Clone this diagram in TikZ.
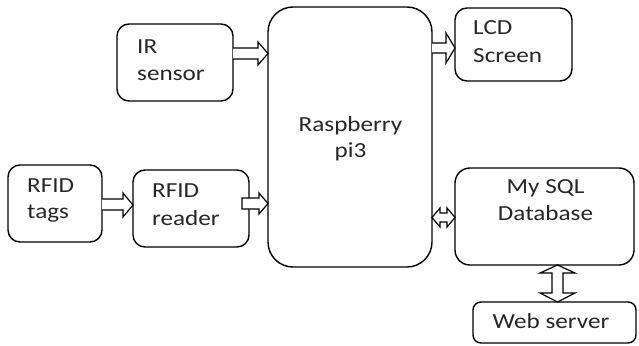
\documentclass[tikz,border=0pt]{standalone}
\usepackage{fontspec}
\setmainfont{Carlito}[FakeStretch=1.17]
\usetikzlibrary{calc}
\begin{document}
\begin{tikzpicture}[x=1pt,y=-1pt,
  box/.style={draw=black, line width=1.4pt, rounded corners=#1, inner sep=0pt, outer sep=0pt},
  blk/.style={draw=black, line width=1.2pt, fill=white, line join=miter},
  lbl/.style={inner sep=0pt, font=\fontsize{21.5}{26}\selectfont, text=black!85},
  lw/.style={lbl, anchor=base west},
  lc/.style={lbl, anchor=base}]
\useasboundingbox (0,0) rectangle (639,345);
% boxes
\node[box=12, minimum width=116, minimum height=77] (ir) at (175,62.5) {};
\node[box=25, minimum width=164, minimum height=260] (pi) at (350,137) {};
\node[box=12, minimum width=117, minimum height=73] (lcd) at (513.5,44.5) {};
\node[box=12, minimum width=94, minimum height=77] (tags) at (55,203.5) {};
\node[box=12, minimum width=116, minimum height=77] (reader) at (191,208.5) {};
\node[box=15, minimum width=179, minimum height=97] (db) at (544.5,216.5) {};
\node[box=8, minimum width=163, minimum height=41] (web) at (554.5,322.5) {};
% texts
\node[lw] (irA) at (137,53) {IR};
\node[lw] (irB) at (137,80) {sensor};
\node[lw] (lcdA) at (473,35) {LCD};
\node[lw] (lcdB) at (473,63) {Screen};
\node[lw] (tagsA) at (27,192) {RFID};
\node[lw] (tagsB) at (27,218) {tags};
\node[lw] (readerA) at (152,197) {RFID};
\node[lw] (readerB) at (152,225) {reader};
\node[lc] (piA) at (350.5,131) {Raspberry};
\node[lc] (piB) at (350.5,157) {pi3};
\node[lc] (dbA) at (545.5,193) {My SQL};
\node[lc] (dbB) at (545.5,220) {Database};
\node[lc] (webA) at (551,328) {Web server};
% IR -> pi
\draw[blk] (ir.east |- 0,48) -- ($(pi.west |- 0,48)+(-10,0)$) -- ($(pi.west |- 0,42)+(-10,0)$)
  -- (pi.west |- 0,53.5) -- ($(pi.west |- 0,65)+(-10,0)$) -- ($(pi.west |- 0,59)+(-10,0)$) -- (ir.east |- 0,59);
% pi -> LCD
\draw[blk] (pi.east |- 0,43) -- ($(lcd.west |- 0,43)+(-9,0)$) -- ($(lcd.west |- 0,33)+(-9,0)$)
  -- (lcd.west |- 0,48) -- ($(lcd.west |- 0,63)+(-9,0)$) -- ($(lcd.west |- 0,53)+(-9,0)$) -- (pi.east |- 0,53);
% tags -> reader
\draw[blk] (tags.east |- 0,199) -- ($(reader.west |- 0,199)+(-10,0)$) -- ($(reader.west |- 0,193)+(-10,0)$)
  -- (reader.west |- 0,205) -- ($(reader.west |- 0,217)+(-10,0)$) -- ($(reader.west |- 0,210)+(-10,0)$) -- (tags.east |- 0,210);
% reader -> pi
\draw[blk] ($(reader.east |- 0,198)+(-7,0)$) -- ($(pi.west |- 0,198)+(-9,0)$) -- ($(pi.west |- 0,193)+(-9,0)$)
  -- (pi.west |- 0,203.5) -- ($(pi.west |- 0,214)+(-9,0)$) -- ($(pi.west |- 0,209)+(-9,0)$) -- ($(reader.east |- 0,209)+(-7,0)$) -- cycle;
% pi <-> db
\draw[blk] (pi.east |- 0,217.5) -- ($(pi.east |- 0,208)+(8,0)$) -- ($(pi.east |- 0,213)+(8,0)$)
  -- ($(db.west |- 0,213)+(-8,0)$) -- ($(db.west |- 0,208)+(-8,0)$) -- (db.west |- 0,217.5)
  -- ($(db.west |- 0,227)+(-8,0)$) -- ($(db.west |- 0,222)+(-8,0)$) -- ($(pi.east |- 0,222)+(8,0)$)
  -- ($(pi.east |- 0,227)+(8,0)$) -- cycle;
% db <-> web
\draw[blk] (557.5,0 |- db.south) -- ($(540,0 |- db.south)+(0,8)$) -- ($(552,0 |- db.south)+(0,8)$)
  -- ($(552,0 |- web.north)+(0,-9)$) -- ($(540,0 |- web.north)+(0,-9)$) -- (557.5,0 |- web.north)
  -- ($(575,0 |- web.north)+(0,-9)$) -- ($(563,0 |- web.north)+(0,-9)$) -- ($(563,0 |- db.south)+(0,8)$)
  -- ($(575,0 |- db.south)+(0,8)$) -- cycle;
\end{tikzpicture}
\end{document}
